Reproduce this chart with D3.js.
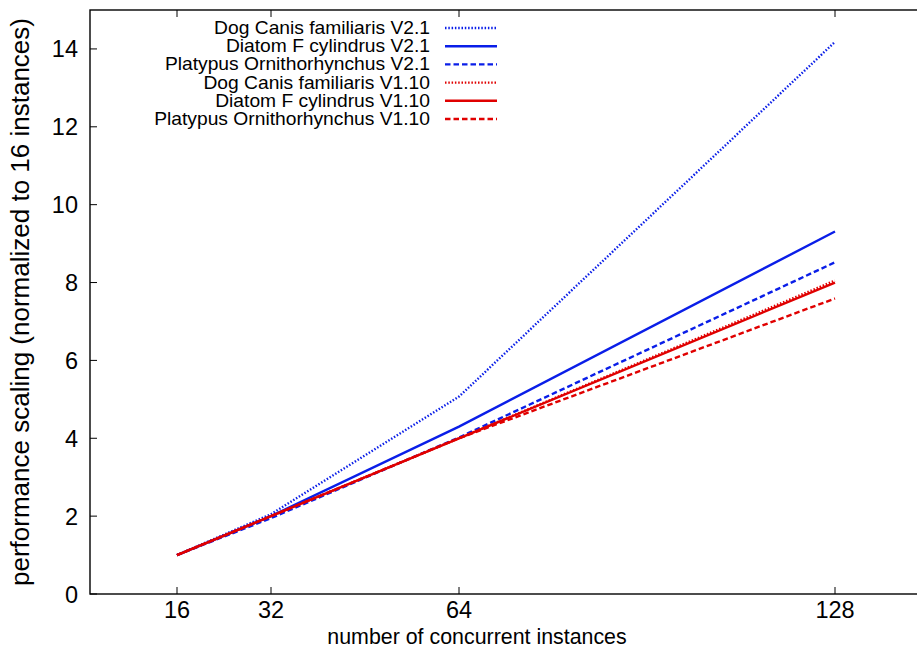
<!DOCTYPE html>
<html>
<head>
<meta charset="utf-8">
<script src="https://cdn.jsdelivr.net/npm/d3@7"></script>
<style>
  body { margin: 0; background: #fff; }
  text { font-family: "Liberation Sans", Arial, sans-serif; fill: #000; }
</style>
</head>
<body>
<script>
"use strict";

// chart size
let w = 917;
let h = 649;

// data
let instances = [16, 32, 64, 128];
let xTicks = [16, 32, 64, 128];
let yTicks = [0, 2, 4, 6, 8, 10, 12, 14];
let seriesNames = [
    "Dog Canis familiaris V2.1",
    "Diatom F cylindrus V2.1",
    "Platypus Ornithorhynchus V2.1",
    "Dog Canis familiaris V1.10",
    "Diatom F cylindrus V1.10",
    "Platypus Ornithorhynchus V1.10"
];
let dogV21 = [1, 2.05, 5.07, 14.18];
let diatomV21 = [1, 2.0, 4.3, 9.31];
let platypusV21 = [1, 1.95, 4.02, 8.52];
let dogV110 = [1, 2.0, 4.0, 8.05];
let diatomV110 = [1, 2.0, 4.0, 8.0];
let platypusV110 = [1, 2.0, 4.0, 7.59];

let seriesValues = [dogV21, diatomV21, platypusV21, dogV110, diatomV110, platypusV110];
let colors = ["#0a1ee8", "#0a1ee8", "#0a1ee8", "#e00000", "#e00000", "#e00000"];
let dashes = ["1.5,1.8", null, "5.5,3", "1.5,1.8", null, "5.5,3"];

// plot frame (pixels)
let pLeft = 90, pTop = 10, pBottom = 594, pRight = 940;

let x = d3.scaleLinear().domain([16, 128]).range([177, 835]);
let y = d3.scaleLinear().domain([0, 15]).range([pBottom, pTop]);

let svg = d3.select("body").append("svg")
    .attr("width", w)
    .attr("height", h);

// frame
svg.append("rect")
    .attr("x", pLeft).attr("y", pTop)
    .attr("width", pRight - pLeft).attr("height", pBottom - pTop)
    .attr("fill", "none").attr("stroke", "#000").attr("stroke-width", 1.4);

// ticks going inward
let tickLen = 7;
svg.append("g").selectAll("line")
    .data(xTicks).enter().append("line")
    .attr("x1", d => x(d)).attr("x2", d => x(d))
    .attr("y1", pBottom).attr("y2", pBottom - tickLen)
    .attr("stroke", "#000");
svg.append("g").selectAll("line")
    .data(xTicks).enter().append("line")
    .attr("x1", d => x(d)).attr("x2", d => x(d))
    .attr("y1", pTop).attr("y2", pTop + tickLen)
    .attr("stroke", "#000");
svg.append("g").selectAll("line")
    .data(yTicks).enter().append("line")
    .attr("x1", pLeft).attr("x2", pLeft + tickLen)
    .attr("y1", d => y(d)).attr("y2", d => y(d))
    .attr("stroke", "#000");

// tick labels
svg.append("g").selectAll("text")
    .data(xTicks).enter().append("text")
    .attr("x", d => x(d)).attr("y", 618)
    .attr("text-anchor", "middle")
    .attr("font-size", 23.5)
    .text(d => d);
svg.append("g").selectAll("text")
    .data(yTicks).enter().append("text")
    .attr("x", 78).attr("y", d => y(d) + 8.5)
    .attr("text-anchor", "end")
    .attr("font-size", 23.5)
    .text(d => d);

// axis titles (x title is a bit condensed like the original)
svg.append("text")
    .attr("transform", "translate(477,643.5) scale(0.93,1)")
    .attr("text-anchor", "middle")
    .attr("font-size", 23)
    .text("number of concurrent instances");
svg.append("text")
    .attr("transform", "translate(29," + (pTop + pBottom) / 2 + ") rotate(-90)")
    .attr("text-anchor", "middle")
    .attr("font-size", 26)
    .text("performance scaling (normalized to 16 instances)");

// lines
let line = d3.line()
    .x((d, i) => x(instances[i]))
    .y(d => y(d));

svg.append("g").selectAll("path")
    .data(seriesValues).enter().append("path")
    .attr("d", d => line(d))
    .attr("fill", "none")
    .attr("stroke", (d, i) => colors[i])
    .attr("stroke-width", 2.4)
    .attr("stroke-dasharray", (d, i) => dashes[i]);

// legend
let legend = svg.append("g").selectAll("g")
    .data(seriesNames).enter().append("g")
    .attr("transform", (d, i) => "translate(0," + (28 + i * 18.2) + ")");
legend.append("text")
    .attr("transform", "translate(430,6) scale(1.1,1)")
    .attr("text-anchor", "end")
    .attr("font-size", 17.5)
    .text(d => d);
legend.append("line")
    .attr("x1", 445).attr("x2", 497)
    .attr("y1", 0).attr("y2", 0)
    .attr("stroke", (d, i) => colors[i])
    .attr("stroke-width", 2.4)
    .attr("stroke-dasharray", (d, i) => dashes[i]);
</script>
</body>
</html>
